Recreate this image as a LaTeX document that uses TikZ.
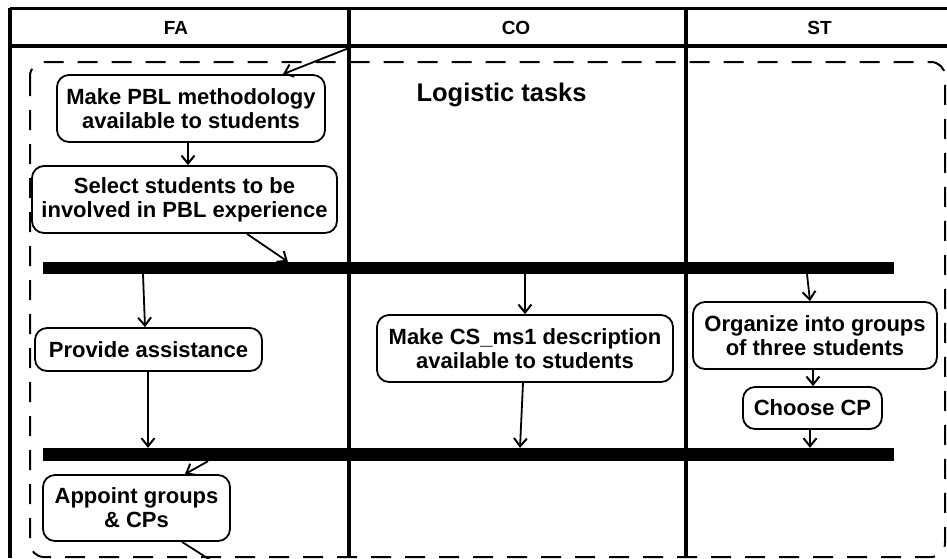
\documentclass[tikz,border=0pt]{standalone}
\usepackage{fontspec}
\setmainfont{Liberation Sans}
\usetikzlibrary{arrows.meta}

\begin{document}
\begin{tikzpicture}[x=1pt, y=-1pt,
  lane/.style={line width=4pt},
  act/.style={draw, line width=1.8pt, rounded corners=12pt, align=center,
    inner sep=0pt, font=\fontsize{22}{24}\selectfont\bfseries},
  joinbar/.style={fill=black, inner sep=0pt, minimum width=851pt},
  flow/.style={line width=1.8pt,
    -{Straight Barb[length=8pt,width=13pt,line width=2pt]}},
  head/.style={font=\fontsize{19}{21}\selectfont\bfseries},
  region/.style={line width=2pt, dash pattern=on 20pt off 14pt, rounded corners=14pt}
]
\useasboundingbox (0,0) rectangle (947,558);
\fill[white] (0,0) rectangle (947,558);

% swimlane frame
\draw[line width=3pt] (10,8) -- (947,8);
\draw[lane] (10,46) -- (947,46);
\draw[lane] (10,8) -- (10,558);
\draw[lane] (349,8) -- (349,558);
\draw[lane] (686,8) -- (686,558);

\node[head] (hfa) at (176,27.5) {FA};
\node[head] (hco) at (516,27.5) {CO};
\node[head] (hst) at (819.5,27.5) {ST};

% interruptible region
\draw[region] (30,62) rectangle (945,557);
\node[anchor=base west, font=\fontsize{25.5}{28}\selectfont\bfseries] (title) at (413,101) {Logistic tasks};

% activities
\node[act, minimum width=268pt, minimum height=67pt] (pbl) at (191,108.5)
  {Make PBL methodology\\available to students};
\node[act, minimum width=305pt, minimum height=67pt] (sel) at (184.5,199.5)
  {Select students to be\\involved in PBL experience};
\node[act, minimum width=227pt, minimum height=43pt] (pa) at (148.5,349.5)
  {Provide assistance};
\node[act, minimum width=187pt, minimum height=66pt] (app) at (136.5,508)
  {Appoint groups\\\& CPs};
\node[act, minimum width=296pt, minimum height=67pt] (cs) at (525,348.5)
  {Make CS\_ms1 description\\available to students};
\node[act, minimum width=244pt, minimum height=67pt] (org) at (815,335.5)
  {Organize into groups\\of three students};
\node[act, minimum width=139pt, minimum height=42pt] (cp) at (812.5,408)
  {Choose CP};

% synchronisation bars
\node[joinbar, minimum height=12pt] (bar1) at (468.5,268) {};
\node[joinbar, minimum height=13pt] (bar2) at (468.5,454.5) {};

% entry and exit points of the region
\coordinate (entry) at (349,48);
\coordinate (exit) at (212,561);

% control flow
\draw[flow] (entry) -- ([xshift=92pt]pbl.north);
\draw[flow] ([xshift=-3pt]pbl.south) -- ([xshift=3.5pt]sel.north);
\draw[flow] ([xshift=62.5pt]sel.south) -- ([xshift=-180.5pt]bar1.north);
\draw[flow] ([xshift=-325.5pt]bar1.south) -- ([xshift=-3.5pt]pa.north);
\draw[flow] ([xshift=-0.5pt]pa.south) -- ([xshift=-320.5pt]bar2.north);
\draw[flow] ([xshift=-260.5pt]bar2.south) -- ([xshift=48.5pt]app.north);
\draw[line width=1.8pt] ([xshift=45.5pt]app.south) -- (exit);
\draw[flow] ([xshift=56.5pt]bar1.south) -- (cs.north);
\draw[flow] ([xshift=-2pt]cs.south) -- ([xshift=51.5pt]bar2.north);
\draw[flow] ([xshift=338.5pt]bar1.south) -- ([xshift=-5pt]org.north);
\draw[flow] ([xshift=-2pt]org.south) -- ([xshift=0.5pt]cp.north);
\draw[flow] ([xshift=-2.5pt]cp.south) -- ([xshift=341.5pt]bar2.north);
\end{tikzpicture}
\end{document}
